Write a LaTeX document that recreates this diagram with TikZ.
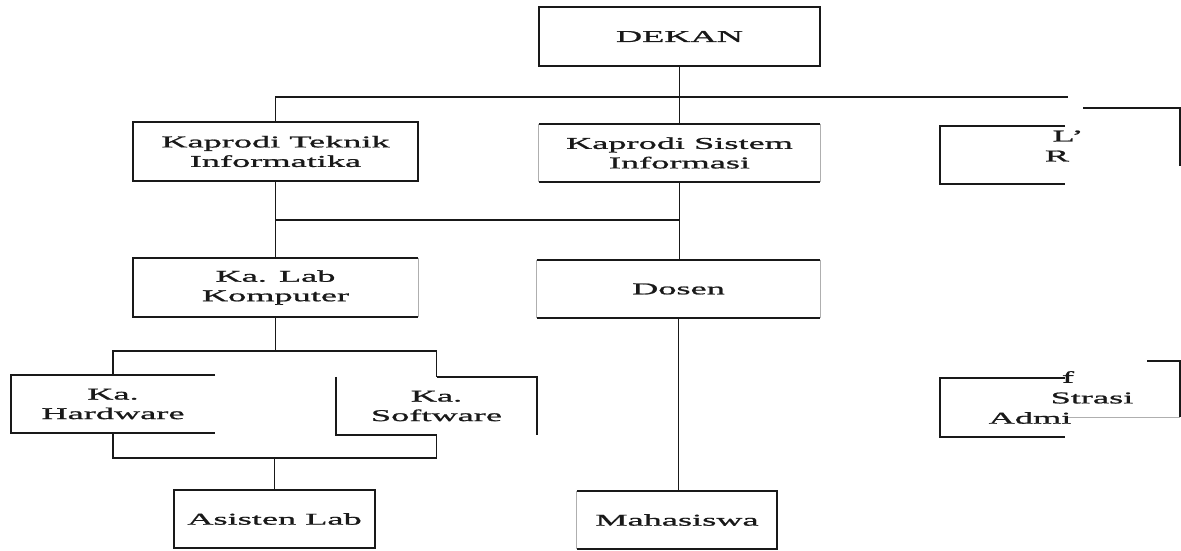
\documentclass[tikz,border=0pt]{standalone}
\usepackage{fontspec}
\setmainfont{Liberation Serif}[FakeStretch=2.2,FakeBold=1.2]
\definecolor{ink}{gray}{0.1}
\begin{document}
\begin{tikzpicture}[x=1pt,y=-1pt,
  lbl/.style={inner sep=0pt, align=center, font=\fontsize{16.5}{19.5}\selectfont, text=ink},
  box/.style={lbl, minimum width=#1, minimum height=58pt},
  edge/.style={draw=ink, line width=1.9pt},
  faint/.style={draw=ink!35, line width=0.8pt},
  wire/.style={draw=ink, line width=1.8pt},
]
\useasboundingbox (0,0) rectangle (1181,551);
\fill[white] (0,0) rectangle (1181,551);

% nodes
\node[box=281pt] (dekan) at (679.5,36.5) {DEKAN};
\node[box=285pt] (kti) at (275.5,151.5) {Kaprodi Teknik\\Informatika};
\node[box=281pt] (ksi) at (679.5,153) {Kaprodi Sistem\\Informasi};
\node[box=285pt] (lab) at (275.5,287.5) {Ka. Lab\\Komputer};
\node[box=283pt] (dosen) at (678.5,289) {Dosen};
\node[box=204pt] (hw) at (113,404) {Ka.\\Hardware};
\node[box=201pt] (sw) at (436.5,406) {Ka.\\Software};
\node[box=201pt] (asisten) at (274.5,519) {Asisten Lab};
\node[box=200pt] (maha) at (677,520) {Mahasiswa};

% box outlines
\draw[edge] (dekan.north west) rectangle (dekan.south east);
\draw[edge] (kti.north west) rectangle (kti.south east);
\draw[edge] (ksi.north west) -- (ksi.north east) (ksi.south west) -- (ksi.south east);
\draw[faint] (ksi.north west) -- (ksi.south west) (ksi.north east) -- (ksi.south east);
\draw[edge] (lab.north east) -- (lab.north west) -- (lab.south west) -- (lab.south east);
\draw[faint] (lab.north east) -- (lab.south east);
\draw[edge] (dosen.north west) -- (dosen.north east) (dosen.south west) -- (dosen.south east);
\draw[faint] (dosen.north west) -- (dosen.south west) (dosen.north east) -- (dosen.south east);
\draw[edge] (hw.north east) -- (hw.north west) -- (hw.south west) -- (hw.south east);
\draw[edge] (sw.north) -- (sw.north east) -- (sw.south east);
\draw[edge] (sw.north west) -- (sw.south west) -- (sw.south);
\draw[edge] (asisten.north west) rectangle (asisten.south east);
\draw[edge] (maha.north west) -- (maha.north east) -- (maha.south east) -- (maha.south west);
\draw[faint] (maha.north west) -- (maha.south west);

% connectors
\coordinate (busR) at (1068,97);
\coordinate (mid) at (680,220);
\coordinate (split) at (276,351);
\coordinate (join) at (276,458);
\draw[wire] (dekan.south) -- (ksi.north);
\draw[wire] (kti.north) -- (kti.north |- busR) -- (busR);
\draw[wire] (kti.south) -- (lab.north);
\draw[wire] (mid -| kti.south) -- (mid);
\draw[wire] (ksi.south) -- (ksi.south |- dosen.north);
\draw[wire] (dosen.south) -- (dosen.south |- maha.north);
\draw[wire] (lab.south) -- (lab.south |- split);
\draw[wire] (hw.north) -- (hw.north |- split) -- (sw.north |- split) -- (sw.north);
\draw[wire] (hw.south) -- (hw.south |- join) -- (sw.south |- join) -- (sw.south);
\draw[wire] (asisten.north) -- (asisten.north |- join);

% damaged fragments on the right
\draw[edge] (1065,126) -- (940,126) -- (940,184) -- (1065,184);
\draw[edge] (1083,108) -- (1180,108) -- (1180,166);
\node[lbl] (r1) at (1068,136) {L'};
\node[lbl] (r2) at (1057,156) {R};
\draw[edge] (1065,378) -- (940,378) -- (940,437) -- (1065,437);
\draw[edge] (1147,361) -- (1180,361) -- (1180,417);
\draw[faint] (1065,417) -- (1180,417);
\node[lbl] (f1) at (1068,377) {f};
\node[lbl] (f2) at (1092,398) {Strasi};
\node[lbl] (f3) at (1030,418) {Admi};
\end{tikzpicture}
\end{document}
